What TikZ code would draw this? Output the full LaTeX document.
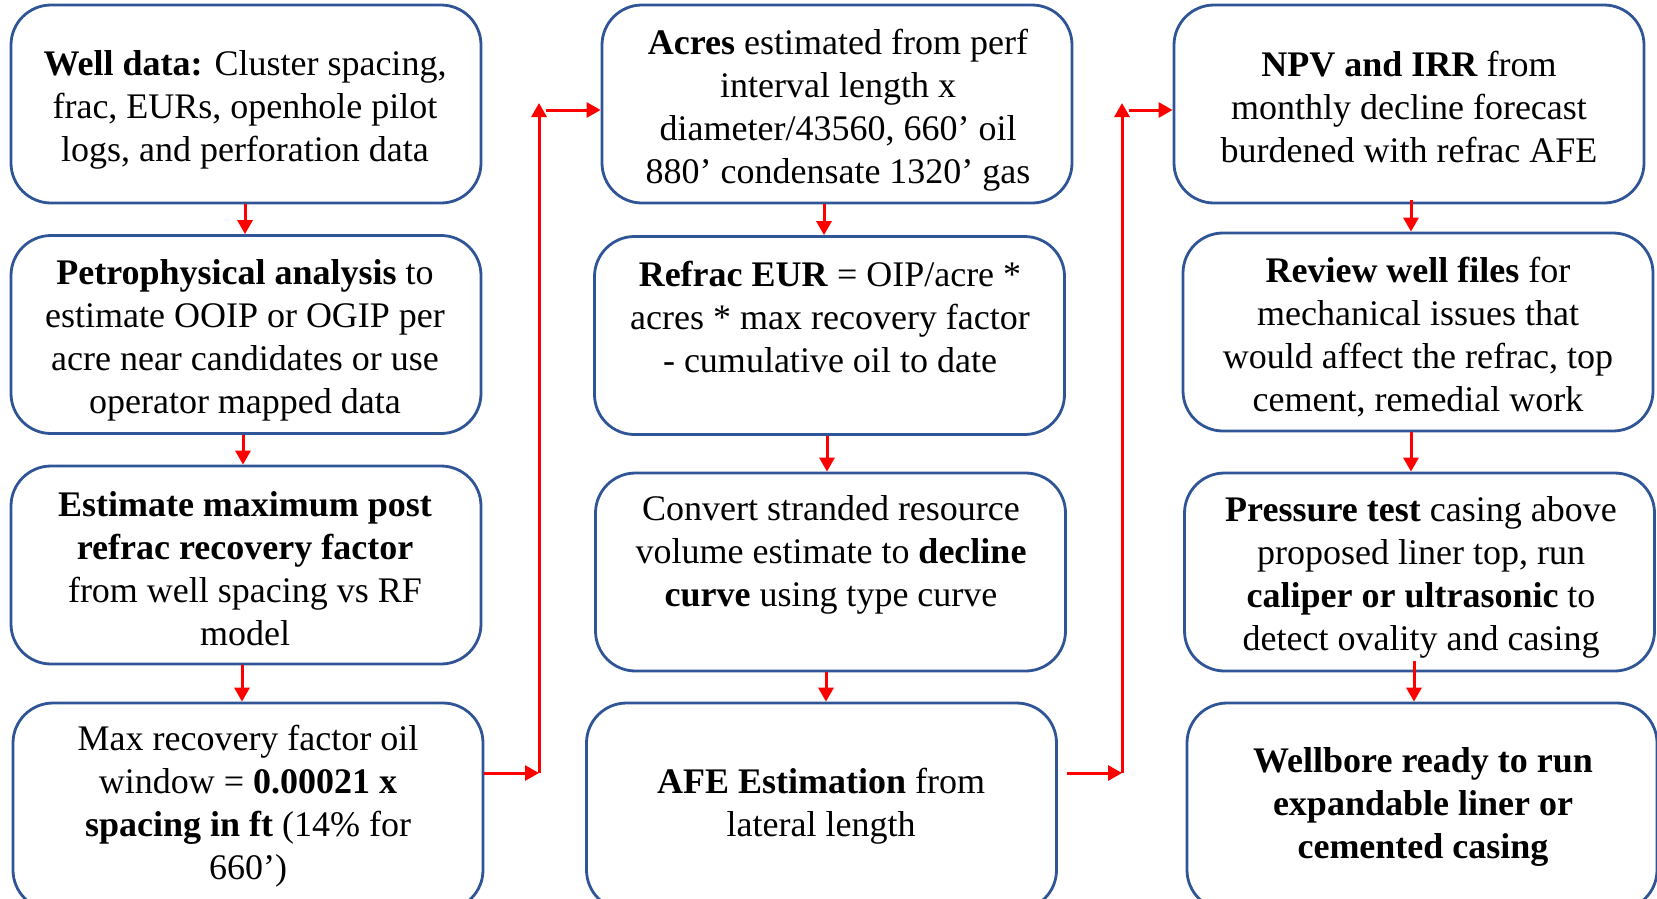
\documentclass[tikz,border=0pt]{standalone}
\usepackage{fontspec}
\setmainfont{Liberation Serif}
\usetikzlibrary{arrows.meta}
\definecolor{boxblue}{RGB}{47,85,151}
\definecolor{arrred}{RGB}{255,0,0}
\begin{document}
\begin{tikzpicture}[x=1pt,y=-1pt,
  box/.style={draw=boxblue, line width=2.8pt, rounded corners=40pt, minimum width=470pt, minimum height=198pt, inner sep=0pt},
  lowbox/.style={box, minimum height=207pt},
  txt/.style={align=center, inner sep=0pt, font=\fontsize{36}{43}\selectfont},
  arr/.style={draw=arrred, line width=3pt, -{Triangle[length=14pt,width=15pt]}}]
\useasboundingbox (0,0) rectangle (1657,898);
% column 1
\node[box] (b1) at (246,104) {};
\node[box] (b2) at (246,334.5) {};
\node[box] (b3) at (246,565) {};
\node[lowbox] (b4) at (248,806.5) {};
\node[txt] (t1) at (245,110) {\textbf{Well data:} Cluster spacing,\\frac, EURs, openhole pilot\\logs, and perforation data};
\node[txt] (t2) at (245,340) {\textbf{Petrophysical analysis} to\\estimate OOIP or OGIP per\\acre near candidates or use\\operator mapped data};
\node[txt] (t3) at (245,569) {\textbf{Estimate maximum post}\\\textbf{refrac recovery factor}\\from well spacing vs RF\\model};
\node[txt] (t4) at (248,806) {Max recovery factor oil\\window = \textbf{0.00021 x}\\\textbf{spacing in ft} (14\% for\\660’)};
% column 2
\node[box] (b5) at (837,104) {};
\node[box] (b6) at (829.5,335.5) {};
\node[box] (b7) at (830.5,572) {};
\node[lowbox] (b8) at (821.5,806.5) {};
\node[txt] (t5) at (838,110) {\textbf{Acres} estimated from perf\\interval length x\\diameter/43560, 660’ oil\\880’ condensate 1320’ gas};
\node[txt] (t6) at (830,317) {\textbf{Refrac EUR} = OIP/acre *\\acres * max recovery factor\\- cumulative oil to date};
\node[txt] (t7) at (831,555) {Convert stranded resource\\volume estimate to \textbf{decline}\\\textbf{curve} using type curve};
\node[txt] (t8) at (821,806) {\textbf{AFE Estimation} from\\lateral length};
% column 3
\node[box] (b9) at (1409,104) {};
\node[box] (b10) at (1418,332) {};
\node[box] (b11) at (1419.5,572) {};
\node[lowbox] (b12) at (1422,806.5) {};
\node[txt] (t9) at (1409,107) {\textbf{NPV and IRR} from\\monthly decline forecast\\burdened with refrac AFE};
\node[txt] (t10) at (1418,337) {\textbf{Review well files} for\\mechanical issues that\\would affect the refrac, top\\cement, remedial work};
\node[txt] (t11) at (1421,577) {\textbf{Pressure test} casing above\\proposed liner top, run\\\textbf{caliper or ultrasonic} to\\detect ovality and casing};
\node[txt] (t12) at (1423,807) {\textbf{Wellbore ready to run}\\\textbf{expandable liner or}\\\textbf{cemented casing}};
% vertical connectors
\draw[arr] ([xshift=-1pt]b1.south) -- ([xshift=-1pt]b1.south |- b2.north);
\draw[arr] ([xshift=-3pt]b2.south) -- ([xshift=-3pt]b2.south |- b3.north);
\draw[arr] ([xshift=-4pt]b3.south) -- ([xshift=-4pt]b3.south |- b4.north);
\draw[arr] ([xshift=-13pt]b5.south) -- ([xshift=-13pt]b5.south |- b6.north);
\draw[arr] ([xshift=-2.5pt]b6.south) -- ([xshift=-2.5pt]b6.south |- b7.north);
\draw[arr] ([xshift=-4.5pt]b7.south) -- ([xshift=-4.5pt]b7.south |- b8.north);
\draw[arr] ([xshift=2pt,yshift=4pt]b9.south) -- ([xshift=2pt]b9.south |- b10.north);
\draw[arr] ([xshift=-7pt]b10.south) -- ([xshift=-7pt]b10.south |- b11.north);
\draw[arr] ([xshift=-5.5pt,yshift=11pt]b11.south) -- ([xshift=-5.5pt]b11.south |- b12.north);
% column links
\coordinate (c1) at (539,773);
\coordinate (c2) at (539,103);
\coordinate (c3) at (546,110);
\coordinate (c4) at (1122,773);
\coordinate (c5) at (1122,103);
\coordinate (c6) at (1129,110);
\draw[arr] (b4.east |- c1) -- (c1);
\draw[arr] (c1) -- (c2);
\draw[arr] (c3) -- (b5.west |- c3);
\draw[arr] ([xshift=9pt]b8.east |- c4) -- (c4);
\draw[arr] (c4) -- (c5);
\draw[arr] (c6) -- (b9.west |- c6);
\end{tikzpicture}
\end{document}
